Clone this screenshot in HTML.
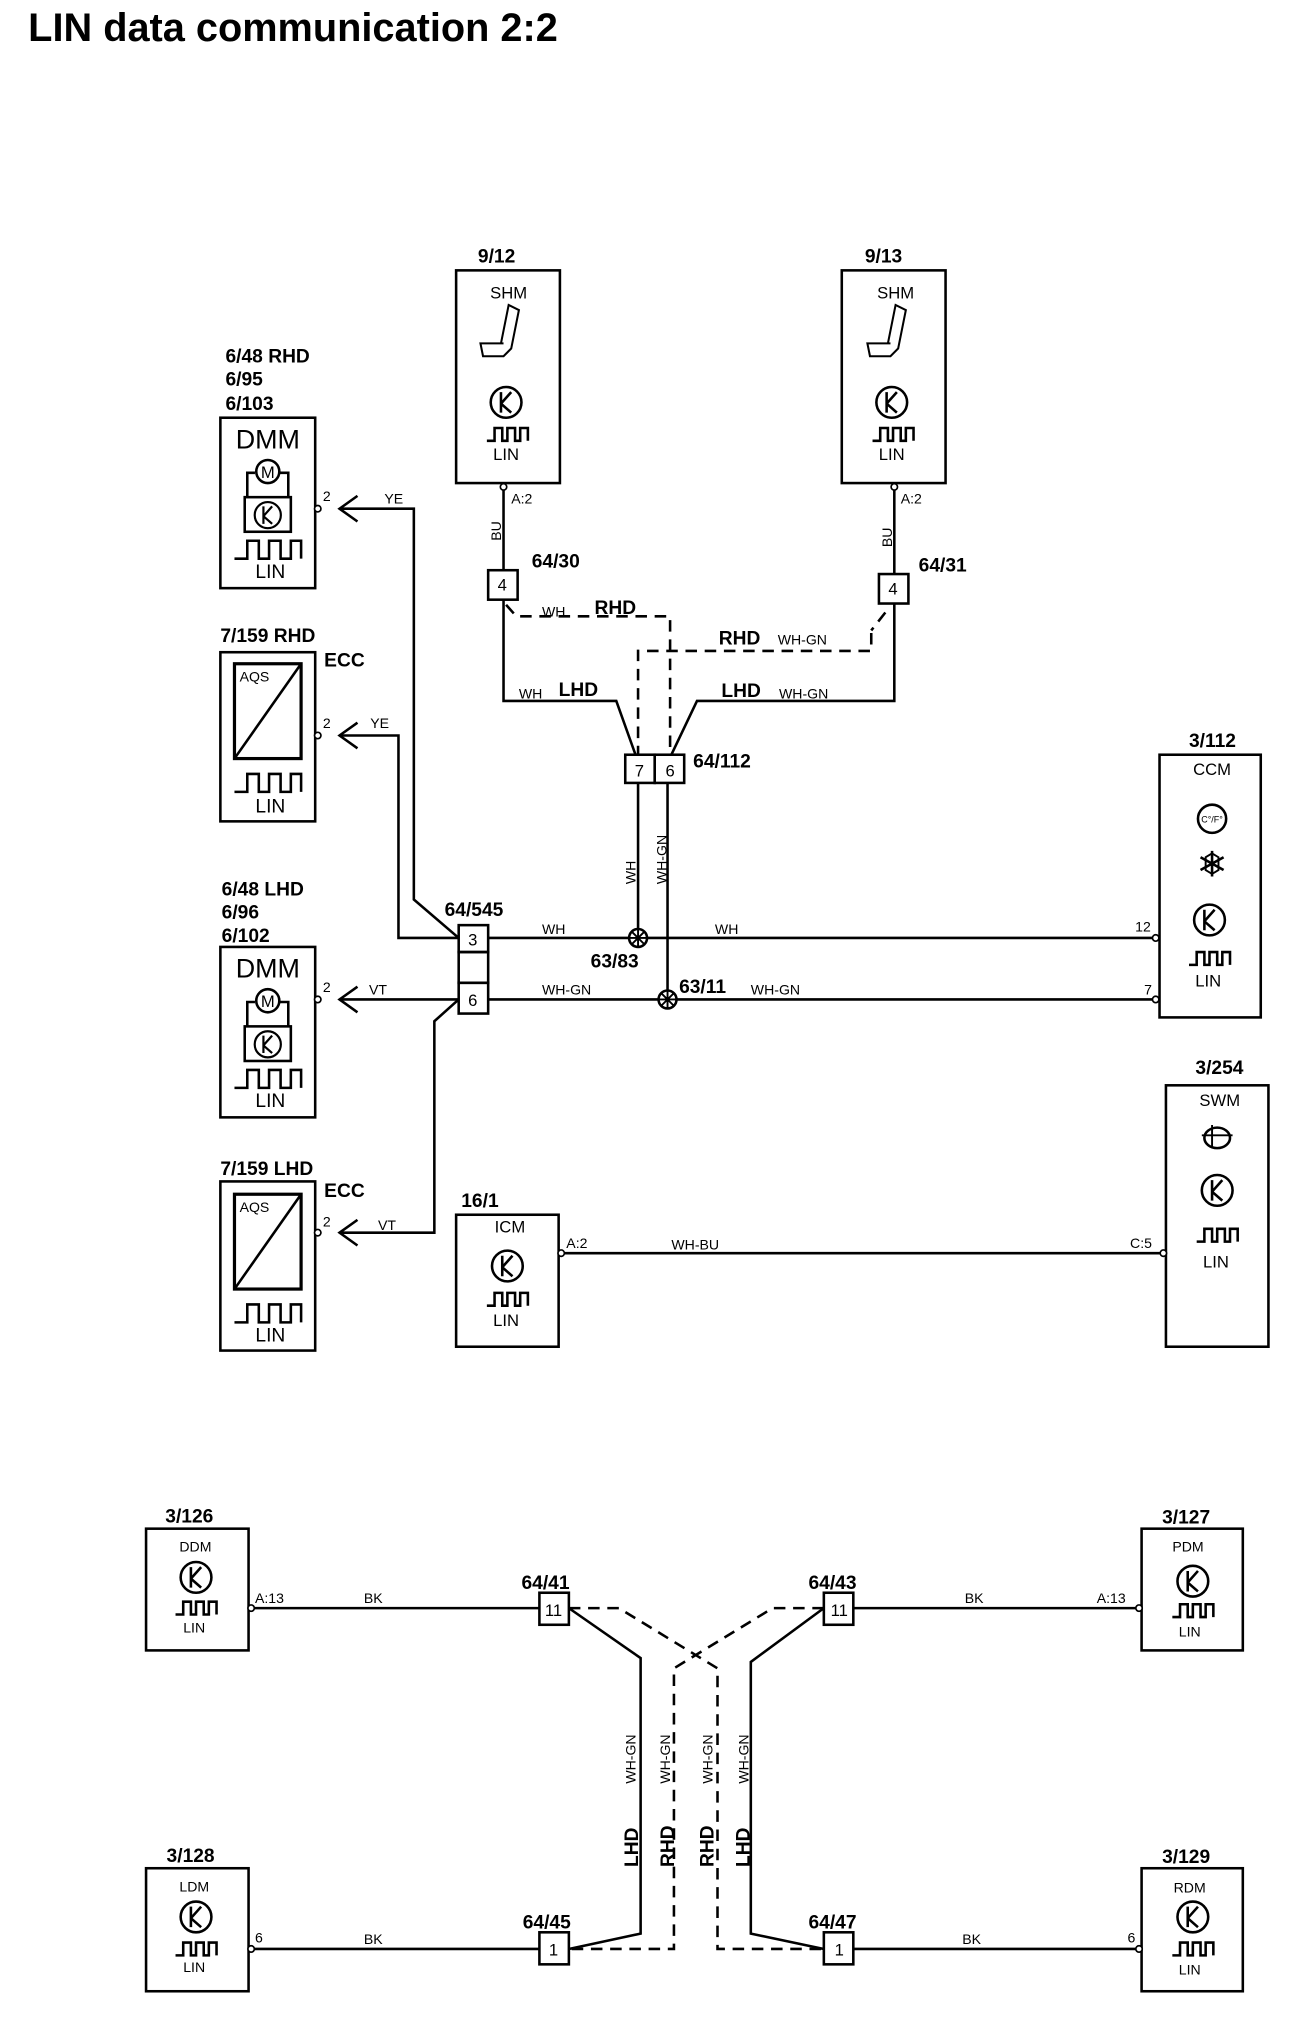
<!DOCTYPE html>
<html><head><meta charset="utf-8"><style>
html,body{margin:0;padding:0;background:#fff;}
svg{display:block;}
text{font-family:"Liberation Sans",Arial,sans-serif;fill:#000;}
.b{font-weight:bold;font-size:15px;}
.s{font-size:11px;}
.m{font-size:13px;}
</style></head><body>
<svg width="1312" height="2022" viewBox="0 0 1024 1578" preserveAspectRatio="none" xmlns="http://www.w3.org/2000/svg">
<defs>
<g id="k"><circle cx="0" cy="0" r="12" fill="none" stroke="#000" stroke-width="2"/><path d="M-4,-8 V8 M-4,1 L4,-8 M-4,1 L4,8" fill="none" stroke="#000" stroke-width="2"/></g>
<path id="w" d="M0,10 h6 v-10 h6 v10 h4 v-10 h6 v10 h4 v-10 h6 v10" fill="none" stroke="#000" stroke-width="2"/>
<path id="wb" d="M0,14 h10 v-14 h9 v14 h8 v-14 h9 v14 h8 v-14 h8 v14" fill="none" stroke="#000" stroke-width="2"/>
<path id="seat" d="M-14,0 l2,10 h16 l6,-6 l6,-30 l-8,-4 l-6,30 z M-14,0 h18" fill="none" stroke="#000" stroke-width="1.6"/>
<g id="spl"><circle r="7" fill="#fff" stroke="#000" stroke-width="2"/><path d="M-7,0H7M0,-7V7M-5,-5L5,5M-5,5L5,-5" stroke="#000" stroke-width="1.5"/></g>
<path id="arr" d="M14,-10 L0,0 L14,10" fill="none" stroke="#000" stroke-width="2"/>
</defs>
<text x="22" y="32" style="font-weight:bold;font-size:31px">LIN data communication 2:2</text>
<g transform="translate(3 2)">
<g fill="none" stroke="#000" stroke-width="2">
<rect x="353" y="209" width="81" height="166"/>
<rect x="654" y="209" width="81" height="166"/>
<rect x="169" y="324" width="74" height="133"/>
<rect x="169" y="507" width="74" height="132"/>
<rect x="169" y="737" width="74" height="133"/>
<rect x="169" y="920" width="74" height="132"/>
<path d="M190,386 V367 H196 M214,367 H222 V386"/><rect x="188" y="386" width="36" height="27"/>
<path d="M190,799 V780 H196 M214,780 H222 V799"/><rect x="188" y="799" width="36" height="27"/>
<rect x="180" y="516" width="52" height="74" stroke-width="2.5"/><path d="M180,590 L232,516"/>
<rect x="180" y="930" width="52" height="74" stroke-width="2.5"/><path d="M180,1004 L232,930"/>
<rect x="902" y="587" width="79" height="205"/>
<rect x="907" y="845" width="80" height="204"/>
<rect x="353" y="946" width="80" height="103"/>
<rect x="111" y="1191" width="80" height="95"/>
<rect x="888" y="1191" width="79" height="95"/>
<rect x="111" y="1456" width="80" height="96"/>
<rect x="888" y="1456" width="79" height="96"/>
<rect x="378" y="443" width="23" height="23"/>
<rect x="683" y="446" width="23" height="23"/>
<rect x="485" y="587" width="23" height="22"/><rect x="508" y="587" width="23" height="22"/>
<rect x="355" y="720" width="23" height="21"/><rect x="355" y="741" width="23" height="24"/><rect x="355" y="765" width="23" height="24"/>
<rect x="418" y="1241" width="23" height="25"/><rect x="640" y="1241" width="23" height="25"/>
<rect x="418" y="1506" width="23" height="25"/><rect x="640" y="1506" width="23" height="25"/>
<path d="M390,378 V443 M695,378 V446"/>
<path d="M390,466 V545 H478 L493,587"/>
<path d="M695,469 V545 H541 L521,587"/>
<path d="M495,609 V730 M518,609 V778"/>
<path d="M378,730 H899 M378,778 H899"/>
<path d="M262,395 H320 V700 L355,730"/>
<path d="M262,572 H308 V730 H355"/>
<path d="M262,778 H355"/>
<path d="M355,778 L336,795 V960 H262"/>
<path d="M435,976 H905"/>
<path d="M193,1253 H418 M663,1253 H886 M193,1519 H418 M663,1519 H886"/>
<path d="M441,1253 L497,1292 V1507 L441,1519"/>
<path d="M640,1253 L583,1295 V1507 L640,1519"/>
</g>
<g fill="none" stroke="#000" stroke-width="2" stroke-dasharray="9,6">
<path d="M392,470 L400,479 H520 V587"/>
<path d="M688,476 L677,490 M677,492 V506 H495 V587"/>
<path d="M441,1253 H480 L557,1300 V1519 H640"/>
<path d="M640,1253 H600 L523,1300 V1519 H441"/>
</g>
<g fill="#fff" stroke="#000" stroke-width="1.3">
<circle cx="390" cy="378" r="2.5"/><circle cx="695" cy="378" r="2.5"/>
<circle cx="245" cy="395" r="2.5"/><circle cx="245" cy="572" r="2.5"/><circle cx="245" cy="778" r="2.5"/><circle cx="245" cy="960" r="2.5"/>
<circle cx="899" cy="730" r="2.5"/><circle cx="899" cy="778" r="2.5"/>
<circle cx="435" cy="976" r="2.5"/><circle cx="905" cy="976" r="2.5"/>
<circle cx="193" cy="1253" r="2.5"/><circle cx="886" cy="1253" r="2.5"/><circle cx="193" cy="1519" r="2.5"/><circle cx="886" cy="1519" r="2.5"/>
</g>
<use href="#arr" x="262" y="395"/><use href="#arr" x="262" y="572"/><use href="#arr" x="262" y="778"/><use href="#arr" x="262" y="960"/>
<use href="#spl" x="495" y="730"/><use href="#spl" x="518" y="778"/>
<use href="#seat" x="386" y="266"/><use href="#seat" x="688" y="266"/>
<use href="#k" x="392" y="312"/><use href="#w" x="377" y="332"/>
<use href="#k" x="693" y="312"/><use href="#w" x="678" y="332"/>
<circle cx="206" cy="366" r="9" fill="#fff" stroke="#000" stroke-width="2"/><text x="206" y="371" text-anchor="middle" class="m">M</text>
<use href="#k" x="206" y="400" transform="translate(206 400) scale(0.85) translate(-206 -400)"/>
<use href="#wb" x="180" y="420"/>
<circle cx="206" cy="779" r="9" fill="#fff" stroke="#000" stroke-width="2"/><text x="206" y="784" text-anchor="middle" class="m">M</text>
<use href="#k" x="206" y="813" transform="translate(206 813) scale(0.85) translate(-206 -813)"/>
<use href="#wb" x="180" y="833"/>
<use href="#wb" x="180" y="602"/><use href="#wb" x="180" y="1016"/>
<circle cx="943" cy="637" r="11" fill="none" stroke="#000" stroke-width="2"/><text x="943" y="640" text-anchor="middle" style="font-size:7px">C°/F°</text>
<g stroke="#000" stroke-width="2" fill="none"><path d="M943,662 V682 M934,667 L952,677 M934,677 L952,667"/><path d="M938,667 L943,664 L948,667 L948,677 L943,680 L938,677 Z" stroke-width="1.5"/></g>
<use href="#k" x="941" y="716"/><use href="#w" x="925" y="741"/>
<ellipse cx="947" cy="886" rx="10" ry="8" fill="none" stroke="#000" stroke-width="2"/><path d="M935,884 H959 M943,876 V894" stroke="#000" stroke-width="1.5"/>
<use href="#k" x="947" y="927"/><use href="#w" x="931" y="957"/>
<use href="#k" x="393" y="986"/><use href="#w" x="377" y="1007"/>
<use href="#k" x="150" y="1229"/><use href="#w" x="134" y="1248"/>
<use href="#k" x="928" y="1232"/><use href="#w" x="912" y="1250"/>
<use href="#k" x="150" y="1494"/><use href="#w" x="134" y="1514"/>
<use href="#k" x="928" y="1494"/><use href="#w" x="912" y="1514"/>
<g class="b">
<text x="370" y="203">9/12</text><text x="672" y="203">9/13</text>
<text x="173" y="281">6/48 RHD</text><text x="173" y="299">6/95</text><text x="173" y="318">6/103</text>
<text x="169" y="499">7/159 RHD</text><text x="250" y="518">ECC</text>
<text x="170" y="697">6/48 LHD</text><text x="170" y="715">6/96</text><text x="170" y="733">6/102</text>
<text x="169" y="915">7/159 LHD</text><text x="250" y="932">ECC</text>
<text x="412" y="441">64/30</text><text x="714" y="444">64/31</text>
<text x="433" y="541">LHD</text><text x="461" y="477">RHD</text><text x="558" y="501">RHD</text><text x="560" y="542">LHD</text>
<text x="538" y="597">64/112</text><text x="344" y="713">64/545</text>
<text x="458" y="753">63/83</text><text x="527" y="773">63/11</text>
<text x="925" y="581">3/112</text><text x="930" y="836">3/254</text><text x="357" y="940">16/1</text>
<text x="126" y="1186">3/126</text><text x="904" y="1187">3/127</text><text x="127" y="1451">3/128</text><text x="904" y="1452">3/129</text>
<text x="404" y="1238">64/41</text><text x="628" y="1238">64/43</text><text x="405" y="1503">64/45</text><text x="628" y="1503">64/47</text>
<text transform="translate(495 1455) rotate(-90)">LHD</text><text transform="translate(523 1455) rotate(-90)">RHD</text>
<text transform="translate(554 1455) rotate(-90)">RHD</text><text transform="translate(582 1455) rotate(-90)">LHD</text>
</g>
<g class="m" text-anchor="middle">
<text x="394" y="231">SHM</text><text x="392" y="357">LIN</text>
<text x="696" y="231">SHM</text><text x="693" y="357">LIN</text>
<text x="389" y="459">4</text><text x="694" y="462">4</text>
<text x="496" y="604">7</text><text x="520" y="604">6</text>
<text x="366" y="736">3</text><text x="366" y="783">6</text>
<text x="943" y="603">CCM</text><text x="940" y="768">LIN</text>
<text x="949" y="861">SWM</text><text x="946" y="987">LIN</text>
<text x="395" y="960">ICM</text><text x="392" y="1033">LIN</text>
<text x="429" y="1259">11</text><text x="652" y="1259">11</text><text x="429" y="1524">1</text><text x="652" y="1524">1</text>
</g>
<g text-anchor="middle" style="font-size:15px">
<text x="208" y="449">LIN</text><text x="208" y="632">LIN</text><text x="208" y="862">LIN</text><text x="208" y="1045">LIN</text>
</g>
<text x="181" y="348" style="font-size:21px">DMM</text><text x="181" y="761" style="font-size:21px">DMM</text>
<g class="s">
<text x="184" y="530">AQS</text><text x="184" y="944">AQS</text>
<text x="249" y="389">2</text><text x="249" y="566">2</text><text x="249" y="772">2</text><text x="249" y="955">2</text>
<text x="297" y="391">YE</text><text x="286" y="566">YE</text><text x="285" y="774">VT</text><text x="292" y="958">VT</text>
<text x="396" y="391">A:2</text><text x="700" y="391">A:2</text>
<text transform="translate(388 420) rotate(-90)">BU</text><text transform="translate(693 425) rotate(-90)">BU</text>
<text x="420" y="479">WH</text><text x="604" y="501">WH-GN</text><text x="402" y="543">WH</text><text x="605" y="543">WH-GN</text>
<text transform="translate(493 688) rotate(-90)">WH</text><text transform="translate(517 688) rotate(-90)">WH-GN</text>
<text x="420" y="727">WH</text><text x="555" y="727">WH</text><text x="420" y="774">WH-GN</text><text x="583" y="774">WH-GN</text>
<text x="883" y="725">12</text><text x="890" y="774">7</text>
<text x="439" y="972">A:2</text><text x="521" y="973">WH-BU</text><text x="879" y="972">C:5</text>
<text x="137" y="1209">DDM</text><text x="140" y="1272">LIN</text>
<text x="912" y="1209">PDM</text><text x="917" y="1275">LIN</text>
<text x="137" y="1474">LDM</text><text x="140" y="1537">LIN</text>
<text x="913" y="1475">RDM</text><text x="917" y="1539">LIN</text>
<text x="196" y="1249">A:13</text><text x="281" y="1249">BK</text><text x="853" y="1249">A:13</text><text x="750" y="1249">BK</text>
<text x="196" y="1514">6</text><text x="281" y="1515">BK</text><text x="877" y="1514">6</text><text x="748" y="1515">BK</text>
<text transform="translate(493 1390) rotate(-90)">WH-GN</text><text transform="translate(520 1390) rotate(-90)">WH-GN</text>
<text transform="translate(553 1390) rotate(-90)">WH-GN</text><text transform="translate(581 1390) rotate(-90)">WH-GN</text>
</g>
</g>
</svg>
</body></html>
